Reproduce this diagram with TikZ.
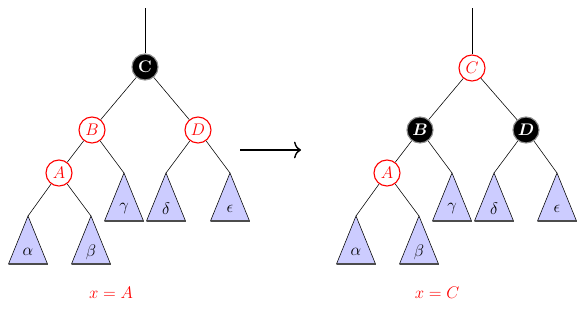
\documentclass[tikz,border=0pt]{standalone}
\usepackage{amsmath, amssymb}
\usepackage{xcolor}
\usepackage{tikz}
\usetikzlibrary{arrows.meta, positioning}

\begin{document}
\begin{tikzpicture}[x=0.7143pt, y=-0.7143pt, >=Stealth, font=\large,
    rednode/.style={circle, draw=red, thick, fill=white, text=red, minimum size=18.6pt, inner sep=0pt},
    blacknode/.style={circle, draw=black!45, thick, fill=black, text=white, minimum size=18.6pt, inner sep=0pt, font=\large\boldmath},
    subtree/.style={draw, fill=blue!20},
    case/.style={text=red}]
    \useasboundingbox (0,0) rectangle (585,313);

    % left tree
    \coordinate (Ltop) at (145,8);
    \node[blacknode] (LC) at (145,67) {$\mathbf{C}$};
    \node[rednode] (LB) at (92,130) {$B$};
    \node[rednode] (LD) at (198,130) {$D$};
    \node[rednode] (LA) at (59,173) {$A$};

    % right tree
    \coordinate (Rtop) at (472,8);
    \node[rednode] (RC) at (472,68) {$C$};
    \node[blacknode] (RB) at (420,130) {$B$};
    \node[blacknode] (RD) at (526,130) {$D$};
    \node[rednode] (RA) at (387,173) {$A$};

    % subtrees
    \foreach \n/\x/\y/\t in {Lal/28/216/\alpha, Lbe/91/216/\beta, Lga/124/173/\gamma, Lde/166/173/\delta, Lep/230/173/\epsilon,
                             Ral/356/216/\alpha, Rbe/419/216/\beta, Rga/452/173/\gamma, Rde/494/173/\delta, Rep/557/173/\epsilon} {
        \coordinate (\n) at (\x,\y);
        \draw[subtree] (\n) -- ++(-19.5,48) -- ++(39,0) -- cycle;
        \draw[thick, black!70] (\x-19.5,\y+48) -- ++(39,0);
        \node (\n-lbl) at (\x,\y+36) {$\t$};
    }

    % edges
    \draw (Ltop) -- (LC);
    \draw (LC) -- (LB);
    \draw (LC) -- (LD);
    \draw (LB) -- (LA);
    \draw (LB) -- (Lga);
    \draw (LA) -- (Lal);
    \draw (LA) -- (Lbe);
    \draw (LD) -- (Lde);
    \draw (LD) -- (Lep);

    \draw (Rtop) -- (RC);
    \draw (RC) -- (RB);
    \draw (RC) -- (RD);
    \draw (RB) -- (RA);
    \draw (RB) -- (Rga);
    \draw (RA) -- (Ral);
    \draw (RA) -- (Rbe);
    \draw (RD) -- (Rde);
    \draw (RD) -- (Rep);

    % recolouring step
    \coordinate (from) at (240,150);
    \coordinate (to) at (301,150);
    \draw[-{To[length=5pt, width=12pt]}, line width=1pt] (from) -- (to);

    \node[case] (Lcase) at (111,293) {$x = A$};
    \node[case] (Rcase) at (437,293) {$x = C$};
\end{tikzpicture}
\end{document}
